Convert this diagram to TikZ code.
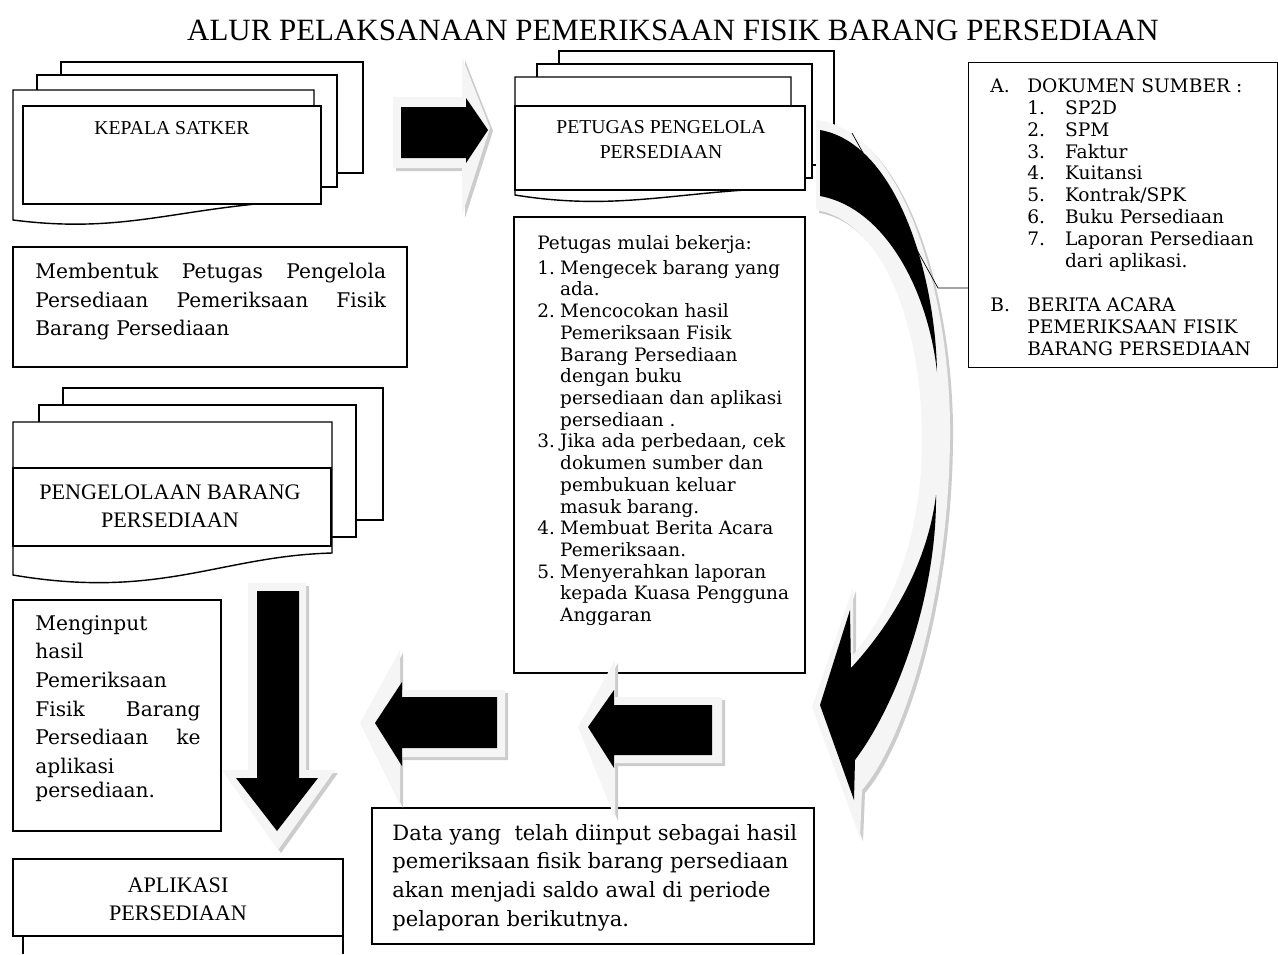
\documentclass[tikz,border=0pt]{standalone}
\usepackage{fontspec}
\setmainfont{DejaVu Serif}
\newfontfamily\timesfont{Liberation Serif}
\usepackage{tikz}
\usetikzlibrary{positioning,calc}

\newcommand{\nomor}[1]{\makebox[13pt][l]{#1}}
\newcommand{\sisip}{\hspace*{13pt}}
\newcommand{\atas}{\rule{0pt}{10pt}}

\begin{document}
\begin{tikzpicture}[x=0.02cm, y=-0.02cm,
    lembar/.style={draw, thick, fill=white},
    kotak/.style={draw, thick},
    isi/.style={inner sep=0pt, anchor=north west, align=left, font=\fontsize{10.5}{12.36}\selectfont},
    kapital/.style={inner sep=0pt, align=center, font=\timesfont\fontsize{11.2}{14.2}\selectfont},
    bevel/.style={fill=gray!8},
    bayang/.style={fill=gray!40},
    hitam/.style={fill=black}]
    \useasboundingbox (0,0) rectangle (1278,954);

    % Judul
    \node [font=\timesfont\fontsize{17.6}{20}\selectfont] (judul) at (673,30) {ALUR PELAKSANAAN PEMERIKSAAN FISIK BARANG PERSEDIAAN};

    % Kepala Satker (tumpukan dokumen)
    \draw [lembar] (61,62) rectangle (363,173);
    \draw [lembar] (37,75) rectangle (337,187);
    \draw [lembar] (13,90) -- (314,90) -- (314,200) .. controls (180,205) and (130,235) .. (13,220) -- cycle;
    \draw [kotak, fill=white] (23,106) rectangle (321,204);
    \node [kapital] (kepala) at (172,128) {KEPALA SATKER};

    \draw [kotak] (13,247) rectangle (407,367);
    \node [isi, font=\fontsize{11.5}{16.4}\selectfont] (bentuk) at (35,260.4)
        {\atas\makebox[199.6pt][s]{Membentuk Petugas Pengelola}\\
         \makebox[199.6pt][s]{Persediaan Pemeriksaan Fisik}\\
         Barang Persediaan};

    % Petugas Pengelola Persediaan
    \draw [lembar] (559,51) rectangle (834,165);
    \draw [lembar] (537,64) rectangle (812,178);
    \draw [lembar] (515,77) -- (791,77) -- (791,188) .. controls (680,190) and (620,212) .. (515,195) -- cycle;
    \draw [kotak, fill=white] (515,106) rectangle (805,190);
    \node [kapital] (petugas) at (661,140) {PETUGAS PENGELOLA\\PERSEDIAAN};

    \draw [kotak] (514,217) rectangle (805,673);
    \node [isi] (langkah) at (537,231.4)
        {\atas Petugas mulai bekerja:\\[1.8pt]
         \nomor{1.}Mengecek barang yang\\
         \sisip ada.\\
         \nomor{2.}Mencocokan hasil\\
         \sisip Pemeriksaan Fisik\\
         \sisip Barang Persediaan\\
         \sisip dengan buku\\
         \sisip persediaan dan aplikasi\\
         \sisip persediaan .\\
         \nomor{3.}Jika ada perbedaan, cek\\
         \sisip dokumen sumber dan\\
         \sisip pembukuan keluar\\
         \sisip masuk barang.\\
         \nomor{4.}Membuat Berita Acara\\
         \sisip Pemeriksaan.\\
         \nomor{5.}Menyerahkan laporan\\
         \sisip kepada Kuasa Pengguna\\
         \sisip Anggaran};

    % Dokumen sumber
    \node [kotak, anchor=north west, minimum width=6.18cm, minimum height=6.1cm] (sumber) at (968,62) {};
    \node [isi, font=\fontsize{10.6}{12.47}\selectfont] (daftar) at (990,74.4)
        {\atas\makebox[21pt][l]{A.}DOKUMEN SUMBER :\\
         \hspace*{21pt}\makebox[21.5pt][l]{1.}SP2D\\
         \hspace*{21pt}\makebox[21.5pt][l]{2.}SPM\\
         \hspace*{21pt}\makebox[21.5pt][l]{3.}Faktur\\
         \hspace*{21pt}\makebox[21.5pt][l]{4.}Kuitansi\\
         \hspace*{21pt}\makebox[21.5pt][l]{5.}Kontrak/SPK\\
         \hspace*{21pt}\makebox[21.5pt][l]{6.}Buku Persediaan\\
         \hspace*{21pt}\makebox[21.5pt][l]{7.}Laporan Persediaan\\
         \hspace*{42.5pt}dari aplikasi.\\[12.47pt]
         \makebox[21pt][l]{B.}BERITA ACARA\\
         \hspace*{21pt}PEMERIKSAAN FISIK\\
         \hspace*{21pt}BARANG PERSEDIAAN};

    % Pengelolaan barang persediaan
    \draw [lembar] (63,388) rectangle (383,520);
    \draw [lembar] (39,405) rectangle (356,537);
    \draw [lembar] (13,422) -- (332,422) -- (332,553) .. controls (220,556) and (160,600) .. (13,575) -- cycle;
    \draw [kotak, fill=white] (13,468) rectangle (331,546);
    \node [kapital, font=\timesfont\fontsize{12.6}{15.9}\selectfont] (kelola) at (170,506) {PENGELOLAAN BARANG\\PERSEDIAAN};

    \draw [kotak] (13,600) rectangle (221,831);
    \node [isi, font=\fontsize{11.5}{16.3}\selectfont] (input) at (35,612.4)
        {\atas Menginput\\ hasil\\ Pemeriksaan\\
         \makebox[94pt][s]{Fisik Barang}\\
         \makebox[94pt][s]{Persediaan ke}\\
         aplikasi\\[-2.5pt] persediaan.};

    % Aplikasi persediaan
    \draw [kotak] (13,859) rectangle (343,936);
    \draw [kotak] (23,954) -- (23,936) (343,936) -- (343,954);
    \node [kapital, font=\timesfont\fontsize{12.6}{15.9}\selectfont] (aplikasi) at (178,899) {APLIKASI\\PERSEDIAAN};

    \draw [kotak] (372,808) rectangle (814,944);
    \node [isi, font=\fontsize{12}{16.3}\selectfont] (data) at (392,822.4)
        {\atas Data yang\ \ telah diinput sebagai hasil\\
         pemeriksaan fisik barang persediaan\\
         akan menjadi saldo awal di periode\\
         pelaporan berikutnya.};

    % Panah blok
    \foreach \g/\w in {3/bayang, 0/bevel} {
        \fill [\w, shift={(\g,\g)}] (393,97) -- (462,97) -- (462,57) -- (490,128) -- (462,215) -- (462,168) -- (393,168) -- cycle;
        \fill [\w, shift={(\g,\g)}] (248,583) -- (306,583) -- (306,770) -- (335,770) -- (278,850) -- (222,770) -- (248,770) -- cycle;
        \fill [\w, shift={(\g,\g)}] (505,690) -- (400,690) -- (400,650) -- (360,723) -- (400,805) -- (400,757) -- (505,757) -- cycle;
        \fill [\w, shift={(\g,\g)}] (722,697) -- (615,697) -- (615,660) -- (578,727) -- (615,818) -- (615,763) -- (722,763) -- cycle;
        \fill [\w, shift={(\g,\g)}] (816,120) .. controls (905,130) and (952,300) .. (950,440) .. controls (948,600) and (905,740) .. (862,790) -- (860,838) -- (812,707) -- (853,588) -- (853,655) .. controls (900,600) and (922,520) .. (922,440) .. controls (922,320) and (880,220) .. (816,210) -- cycle;
    }
    \fill [hitam] (401,107) -- (466,107) -- (466,98) -- (488,130) -- (466,163) -- (466,158) -- (401,158) -- cycle;
    \fill [hitam] (257,591) -- (299,591) -- (299,778) -- (318,778) -- (277,831) -- (236,778) -- (257,778) -- cycle;
    \fill [hitam] (497,697) -- (402,697) -- (402,682) -- (375,723) -- (402,766) -- (402,748) -- (497,748) -- cycle;
    \fill [hitam] (712,705) -- (614,705) -- (614,690) -- (588,727) -- (614,768) -- (614,755) -- (712,755) -- cycle;
    \fill [hitam] (820,130) .. controls (895,143) and (935,270) .. (937,372) .. controls (928,290) and (885,208) .. (820,196) -- cycle;
    \fill [hitam] (936,495) .. controls (937,590) and (900,700) .. (855,760) -- (854,800) -- (820,705) -- (850,610) -- (851,668) .. controls (895,620) and (928,560) .. (936,495) -- cycle;

    % Garis penunjuk
    \coordinate (tunjuk) at (852,133);
    \coordinate (siku) at (938,288);
    \draw (tunjuk) -- (siku) -- (siku -| sumber.west);
\end{tikzpicture}
\end{document}
